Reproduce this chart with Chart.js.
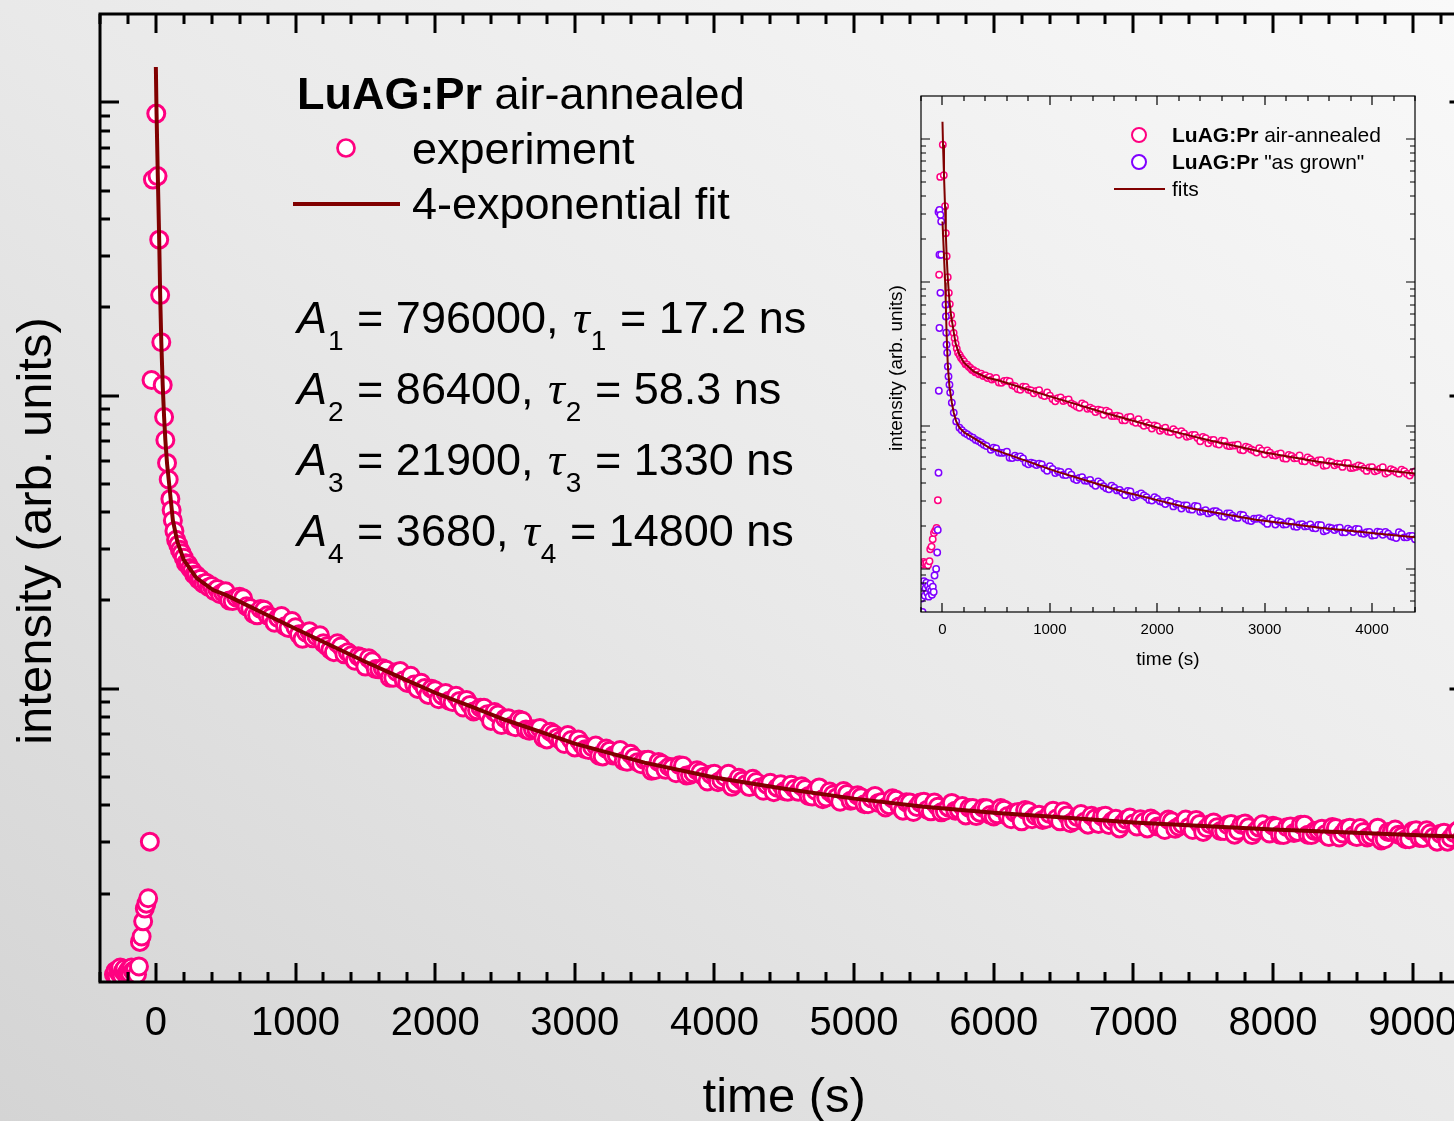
<!DOCTYPE html>
<html>
<head>
<meta charset="utf-8">
<script src="https://cdn.jsdelivr.net/npm/chart.js@4.4.1/dist/chart.umd.min.js"></script>
<style>
  html, body { margin: 0; padding: 0; width: 1454px; height: 1121px; overflow: hidden; }
  body { position: relative; background: linear-gradient(to top right, #d4d4d4 0%, #e9e9e9 50%, #f9f9f9 100%); }
  #main { position: absolute; left: 0; top: 0; }
  #inset { position: absolute; left: 870px; top: 80px; }
</style>
</head>
<body>
<canvas id="main" width="1480" height="1121"></canvas>
<canvas id="inset" width="560" height="600"></canvas>
<script>
// air-annealed sample, time (s) and counts
const mainTimes = [
  -300, -290, -280, -270, -262, -255, -245, -235, -225, -215,
  -205, -195, -185, -175, -165, -150, -135, -121, -114, -102,
  -91, -79, -68, -55, -43, -31, -21, 3, 12, 24,
  31, 39, 49, 59, 68, 80, 92, 104, 113, 122,
  133, 145, 160, 172, 185, 200, 215, 230, 245, 260,
  275, 290, 305, 320, 340, 360, 380, 400, 420, 440,
  460, 480,
  500, 550, 600, 650, 700, 750, 800, 850, 900, 950,
  1000, 1050, 1100, 1150, 1200, 1250, 1300, 1350, 1400, 1450,
  1500, 1550, 1600, 1650, 1700, 1750, 1800, 1850, 1900, 1950,
  2000, 2050, 2100, 2150, 2200, 2250, 2300, 2350, 2400, 2450,
  2500, 2550, 2600, 2650, 2700, 2750, 2800, 2850, 2900, 2950,
  3000, 3050, 3100, 3150, 3200, 3250, 3300, 3350, 3400, 3450,
  3500, 3550, 3600, 3650, 3700, 3750, 3800, 3850, 3900, 3950,
  4000, 4050, 4100, 4150, 4200, 4250, 4300, 4350, 4400, 4450,
  4500, 4550, 4600, 4650, 4700, 4750, 4800, 4850, 4900, 4950,
  5000, 5050, 5100, 5150, 5200, 5250, 5300, 5350, 5400, 5450,
  5500, 5550, 5600, 5650, 5700, 5750, 5800, 5850, 5900, 5950,
  6000, 6050, 6100, 6150, 6200, 6250, 6300, 6350, 6400, 6450,
  6500, 6550, 6600, 6650, 6700, 6750, 6800, 6850, 6900, 6950,
  7000, 7050, 7100, 7150, 7200, 7250, 7300, 7350, 7400, 7450,
  7500, 7550, 7600, 7650, 7700, 7750, 7800, 7850, 7900, 7950,
  8000, 8050, 8100, 8150, 8200, 8250, 8300, 8350, 8400, 8450,
  8500, 8550, 8600, 8650, 8700, 8750, 8800, 8850, 8900, 8950,
  9000, 9050, 9100, 9150, 9200, 9250, 9300, 9350, 9400
];
const mainCounts = [
  1060, 1090, 1040, 1100, 1070, 1120, 1050, 1090, 1110, 1060,
  1080, 1100, 1070, 1120, 1090, 1100, 1060, 1130, 1370, 1430,
  1610, 1780, 1850, 1930, 3010, 113000, 545000, 915000, 560000, 340000,
  220000, 152000, 108700, 84500, 70500, 58900, 51700, 44400, 40700, 37500,
  34500, 32200, 31000, 29800, 29000, 28000, 26800, 26600, 25800, 25300,
  24500, 24400, 23600, 23700, 22800, 23000, 22200, 22400, 21500, 21900,
  21000, 21300,
  21500, 19900, 20600, 19100, 18000, 18700, 17800, 16800, 17700, 16100,
  16200, 14800, 15700, 15100, 14300, 13600, 14300, 13100, 13000, 12900,
  11900, 12400, 11650, 11600, 10900, 11500, 10470, 10330, 10480, 9530,
  9880, 9490, 9100, 9460, 8630, 8810, 8450, 8610, 7770, 8170,
  7920, 7470, 7850, 7260, 7270, 7350, 6720, 7010, 6680, 6950,
  6310, 6460, 6180, 6400, 5880, 6150, 5940, 5670, 6000, 5620,
  5710, 5250, 5630, 5290, 5390, 5490, 5060, 5150, 5190, 4830,
  5130, 4880, 5130, 4750, 4860, 4620, 4810, 4490, 4780, 4600,
  4470, 4710, 4450, 4550, 4290, 4610, 4260, 4360, 4120, 4380,
  4180, 4270, 4040, 4310, 4110, 4010, 4180, 3840, 4090, 3950,
  4120, 3820, 3960, 3830, 4080, 3870, 3700, 3920, 3780, 3910,
  3670, 3920, 3680, 3780, 3530, 3820, 3690, 3570, 3740, 3610,
  3820, 3480, 3650, 3520, 3690, 3460, 3690, 3540, 3340, 3580,
  3470, 3590, 3340, 3540, 3380, 3580, 3330, 3450, 3380, 3570,
  3250, 3450, 3370, 3270, 3460, 3280, 3470, 3170, 3360, 3290,
  3410, 3180, 3370, 3220, 3440, 3180, 3270, 3330, 3120, 3350,
  3210, 3360, 3120, 3250, 3150, 3360, 3070, 3250, 3180, 3070,
  3270, 3100, 3290, 3120, 3200, 3010, 3220, 3070, 3150
];
// readings taken between the ones above
const mainTimesMid = [
  525, 575, 625, 675, 725, 775, 825, 875, 925, 975,
  1025, 1075, 1125, 1175, 1225, 1275, 1325, 1375, 1425, 1475,
  1525, 1575, 1625, 1675, 1725, 1775, 1825, 1875, 1925, 1975,
  2025, 2075, 2125, 2175, 2225, 2275, 2325, 2375, 2425, 2475,
  2525, 2575, 2625, 2675, 2725, 2775, 2825, 2875, 2925, 2975,
  3025, 3075, 3125, 3175, 3225, 3275, 3325, 3375, 3425, 3475,
  3525, 3575, 3625, 3675, 3725, 3775, 3825, 3875, 3925, 3975,
  4025, 4075, 4125, 4175, 4225, 4275, 4325, 4375, 4425, 4475,
  4525, 4575, 4625, 4675, 4725, 4775, 4825, 4875, 4925, 4975,
  5025, 5075, 5125, 5175, 5225, 5275, 5325, 5375, 5425, 5475,
  5525, 5575, 5625, 5675, 5725, 5775, 5825, 5875, 5925, 5975,
  6025, 6075, 6125, 6175, 6225, 6275, 6325, 6375, 6425, 6475,
  6525, 6575, 6625, 6675, 6725, 6775, 6825, 6875, 6925, 6975,
  7025, 7075, 7125, 7175, 7225, 7275, 7325, 7375, 7425, 7475,
  7525, 7575, 7625, 7675, 7725, 7775, 7825, 7875, 7925, 7975,
  8025, 8075, 8125, 8175, 8225, 8275, 8325, 8375, 8425, 8475,
  8525, 8575, 8625, 8675, 8725, 8775, 8825, 8875, 8925, 8975,
  9025, 9075, 9125, 9175, 9225, 9275, 9325, 9375
];
const mainCountsMid = [
  20000, 20480, 20340, 18850, 17800, 18590, 17570, 17450, 16330, 17030,
  15330, 15550, 14860, 15220, 13970, 13330, 13940, 13320, 12460, 12770,
  12700, 11670, 11750, 10900, 11410, 10700, 11080, 9990, 10050, 10010,
  9210, 9670, 9010, 9090, 9160, 8370, 8620, 8190, 8330, 7520,
  7930, 7390, 7780, 7190, 7270, 6790, 7140, 6810, 6480, 6690,
  6710, 6220, 6320, 5910, 6250, 5920, 6180, 5640, 5830, 5530,
  5730, 5280, 5540, 5420, 5150, 5460, 5080, 5270, 5010, 5100,
  4800, 5010, 4630, 4970, 4730, 4930, 4610, 4710, 4440, 4720,
  4450, 4560, 4650, 4310, 4490, 4200, 4460, 4260, 4480, 4150,
  4330, 4040, 4230, 4080, 3940, 4230, 3970, 4100, 3800, 4090,
  3870, 4090, 3790, 3940, 3840, 3980, 3920, 3680, 3920, 3710,
  3730, 3870, 3590, 3800, 3860, 3590, 3720, 3600, 3840, 3530,
  3700, 3540, 3740, 3440, 3610, 3670, 3430, 3600, 3470, 3640,
  3390, 3510, 3610, 3390, 3300, 3530, 3390, 3580, 3300, 3460,
  3350, 3500, 3270, 3430, 3180, 3440, 3370, 3260, 3450, 3210,
  3380, 3170, 3390, 3250, 3440, 3170, 3290, 3190, 3380, 3110,
  3330, 3160, 3350, 3110, 3230, 3040, 3250, 3310, 3140, 3070,
  3290, 3100, 3210, 3010, 3230, 3100, 3290, 3030
];
const fitTimes = [
  0, 5, 14, 24, 31, 39, 49, 59, 68, 80,
  92, 106, 122, 154, 200, 290, 410, 500, 600, 800,
  1000, 1250, 1500, 1750, 2000, 2250, 2500, 2750, 3000, 3500,
  4000, 4500, 5000, 5500, 6000, 6500, 7000, 8000, 9000, 9400
];
const fitCounts = [
  1320000, 915000, 560000, 338000, 219000, 152000, 108700, 84500, 70400, 58700,
  51700, 44400, 37500, 31700, 27500, 23900, 21700, 20900, 19820, 17810,
  16010, 14070, 12360, 10940, 9690, 8720, 7840, 7140, 6500, 5600,
  4980, 4560, 4220, 3960, 3780, 3640, 3500, 3310, 3170, 3120
];

// "as grown" sample (inset only)
const grownTimes = [
  -195, -188, -186, -180, -172, -165, -158, -150, -142, -135,
  -128, -120, -112, -105, -98, -90, -82, -74, -59, -49,
  -44, -37, -34, -28, -19, -28, -12, -12, -37, -28,
  -19, 28, 32, 35, 38, 44, 50, 56, 65, 72,
  87, 105, 128, 158, 180, 205, 230, 255, 284, 310,
  335, 360, 385, 410,
  450, 500, 550, 600, 650, 700, 750, 800, 850, 900,
  950, 1000, 1050, 1100, 1150, 1200, 1250, 1300, 1350, 1400,
  1450, 1500, 1550, 1600, 1650, 1700, 1750, 1800, 1850, 1900,
  1950, 2000, 2050, 2100, 2150, 2200, 2250, 2300, 2350, 2400,
  2450, 2500, 2550, 2600, 2650, 2700, 2750, 2800, 2850, 2900,
  2950, 3000, 3050, 3100, 3150, 3200, 3250, 3300, 3350, 3400,
  3450, 3500, 3550, 3600, 3650, 3700, 3750, 3800, 3850, 3900,
  3950, 4000, 4050, 4100, 4150, 4200, 4250, 4300, 4350, 4400
];
const grownCounts = [
  620, 760, 500, 690, 820, 650, 730, 800, 680, 760,
  640, 720, 790, 700, 660, 750, 690, 900, 1000, 1300,
  1870, 4690, 17500, 48000, 84500, 156000, 156000, 266000, 310000, 320000,
  295000, 69800, 57800, 44500, 36700, 32300, 25900, 22000, 19300, 17000,
  14450, 12300, 10700, 9670, 9300, 8920, 8700, 8450, 8240, 7950,
  7800, 7600, 7350, 7200,
  6780, 6920, 6450, 6570, 5950, 6010, 5890, 5380, 5440, 5430,
  5020, 5210, 4670, 4740, 4520, 4540, 4170, 4360, 4120, 3930,
  4070, 3770, 3600, 3690, 3560, 3270, 3470, 3230, 3360, 3160,
  3000, 3080, 2930, 2990, 2730, 2810, 2770, 2610, 2750, 2500,
  2570, 2480, 2530, 2330, 2440, 2350, 2270, 2370, 2180, 2240,
  2260, 2130, 2250, 2040, 2120, 2050, 2110, 1970, 2050, 1990,
  1930, 2030, 1830, 1950, 1870, 1940, 1800, 1860, 1900, 1770,
  1800, 1710, 1820, 1730, 1760, 1670, 1800, 1660, 1700, 1610
];
const grownTimesMid = [
  475, 525, 575, 625, 675, 725, 775, 825, 875, 925,
  975, 1025, 1075, 1125, 1175, 1225, 1275, 1325, 1375, 1425,
  1475, 1525, 1575, 1625, 1675, 1725, 1775, 1825, 1875, 1925,
  1975, 2025, 2075, 2125, 2175, 2225, 2275, 2325, 2375, 2425,
  2475, 2525, 2575, 2625, 2675, 2725, 2775, 2825, 2875, 2925,
  2975, 3025, 3075, 3125, 3175, 3225, 3275, 3325, 3375, 3425,
  3475, 3525, 3575, 3625, 3675, 3725, 3775, 3825, 3875, 3925,
  3975, 4025, 4075, 4125, 4175, 4225, 4275, 4325, 4375
];
const grownCountsMid = [
  7020, 6490, 6480, 5970, 6160, 6090, 5510, 5520, 5300, 5350,
  4840, 4980, 4800, 4540, 4740, 4260, 4320, 4130, 4180, 3800,
  3940, 3650, 3810, 3530, 3410, 3500, 3160, 3290, 3250, 3030,
  3170, 2960, 2840, 2930, 2840, 2640, 2770, 2590, 2730, 2530,
  2440, 2530, 2460, 2310, 2440, 2280, 2390, 2240, 2160, 2240,
  2200, 2060, 2190, 2150, 2040, 2140, 1980, 2040, 1980, 2040,
  1920, 2020, 1860, 1920, 1920, 1800, 1910, 1810, 1890, 1760,
  1810, 1720, 1800, 1810, 1690, 1640, 1750, 1660, 1700
];
const grownFitTimes = [
  0, 25, 30, 38, 50, 65, 87, 105, 128, 158,
  205, 284, 360, 437, 700, 1058, 1400, 1677, 2000, 2298,
  2918, 3538, 4158, 4400
];
const grownFitCounts = [
  266000, 99800, 76000, 44500, 26000, 18700, 14500, 12300, 10700, 9670,
  8920, 8240, 7600, 6990, 5950, 4790, 4010, 3470, 3020, 2660,
  2200, 1930, 1730, 1660
];

const mainTickLabels = [0, 1000, 2000, 3000, 4000, 5000, 6000, 7000, 8000, 9000];
const insetTickLabels = [0, 1000, 2000, 3000, 4000];
const fitAmplitudes = ['796000', '86400', '21900', '3680'];
const fitLifetimes = ['17.2', '58.3', '1330', '14800'];

const FONT = '"Liberation Sans", Arial, Helvetica, sans-serif';
const SERIF = '"Liberation Serif", "Times New Roman", serif';
const PINK = '#ff0080';
const PURPLE = '#8000ff';
const MAROON = '#800000';

const toPoints = (xs, ys) => xs.map((t, i) => ({ x: t, y: ys[i] }));
// merge two sets of readings back into time order, so later circles sit on top
const merged = (a, b) => a.concat(b).sort((p, q) => p.x - q.x);

const airPoints = merged(toPoints(mainTimes, mainCounts), toPoints(mainTimesMid, mainCountsMid));
const grownPoints = merged(toPoints(grownTimes, grownCounts), toPoints(grownTimesMid, grownCountsMid));

function put(ctx, text, x, y, font) {
  ctx.font = font;
  ctx.fillText(text, x, y);
  return x + ctx.measureText(text).width;
}

// frame with inward ticks on all four sides
function frameTicks(o) {
  return {
    id: 'frameTicks',
    afterDatasetsDraw(chart) {
      const { ctx, chartArea: a, scales: { x, y } } = chart;
      ctx.save();
      ctx.strokeStyle = '#000';
      ctx.lineWidth = o.width;
      ctx.beginPath();
      for (let v = x.min; v <= x.max; v += 200) {
        const px = Math.round(x.getPixelForValue(v));
        const len = v % 1000 === 0 ? o.major : o.minor;
        ctx.moveTo(px, a.bottom);
        ctx.lineTo(px, a.bottom - len);
        ctx.moveTo(px, a.top);
        ctx.lineTo(px, a.top + len);
      }
      for (let e = 2; e <= 6; e++) {
        for (let m = 1; m <= 9; m++) {
          const v = m * Math.pow(10, e);
          if (v <= y.min || v >= y.max) continue;
          const py = Math.round(y.getPixelForValue(v));
          const len = m === 1 ? o.major : o.minor;
          ctx.moveTo(a.left, py);
          ctx.lineTo(a.left + len, py);
          ctx.moveTo(a.right, py);
          ctx.lineTo(a.right - len, py);
        }
      }
      ctx.stroke();
      ctx.strokeRect(a.left, a.top, a.right - a.left, a.bottom - a.top);
      ctx.restore();
    }
  };
}

const mainNotes = {
  id: 'mainNotes',
  afterDraw(chart) {
    const ctx = chart.ctx;
    ctx.save();
    ctx.fillStyle = '#000';
    ctx.textBaseline = 'alphabetic';
    let x = put(ctx, 'LuAG:Pr', 297, 109, 'bold 45px ' + FONT);
    put(ctx, ' air-annealed', x, 109, '45px ' + FONT);
    put(ctx, 'experiment', 412, 164, '45px ' + FONT);
    put(ctx, '4-exponential fit', 412, 219, '45px ' + FONT);

    ctx.lineWidth = 2.7;
    ctx.strokeStyle = PINK;
    ctx.fillStyle = '#fff';
    ctx.beginPath();
    ctx.arc(346, 148, 8.5, 0, 2 * Math.PI);
    ctx.fill();
    ctx.stroke();
    ctx.strokeStyle = MAROON;
    ctx.lineWidth = 4;
    ctx.beginPath();
    ctx.moveTo(293, 204);
    ctx.lineTo(400, 204);
    ctx.stroke();

    ctx.fillStyle = '#000';
    fitAmplitudes.forEach((amp, i) => {
      const base = 333 + i * 71;
      let x = put(ctx, 'A', 297, base, 'italic 45px ' + FONT);
      x = put(ctx, String(i + 1), x + 1, base + 17, '28px ' + FONT) + 1;
      x = put(ctx, ' = ' + amp + ', ', x, base, '45px ' + FONT);
      x = put(ctx, 'τ', x + 2, base, 'italic 47px ' + SERIF);
      x = put(ctx, String(i + 1), x + 1, base + 17, '28px ' + FONT) + 1;
      put(ctx, ' = ' + fitLifetimes[i] + ' ns', x, base, '45px ' + FONT);
    });

    ctx.translate(37, 531);
    ctx.rotate(-Math.PI / 2);
    ctx.textAlign = 'center';
    ctx.textBaseline = 'middle';
    ctx.font = '49px ' + FONT;
    ctx.fillText('intensity (arb. units)', 0, 0);
    ctx.restore();
  }
};

const insetNotes = {
  id: 'insetNotes',
  afterDraw(chart) {
    const ctx = chart.ctx;
    ctx.save();
    ctx.lineWidth = 2;
    [[55, PINK], [82, PURPLE]].forEach(([cy, c]) => {
      ctx.strokeStyle = c;
      ctx.fillStyle = '#fff';
      ctx.beginPath();
      ctx.arc(269, cy, 7, 0, 2 * Math.PI);
      ctx.fill();
      ctx.stroke();
    });
    ctx.strokeStyle = MAROON;
    ctx.beginPath();
    ctx.moveTo(244, 109);
    ctx.lineTo(295, 109);
    ctx.stroke();

    ctx.fillStyle = '#000';
    let x = put(ctx, 'LuAG:Pr', 302, 62, 'bold 21px ' + FONT);
    put(ctx, ' air-annealed', x, 62, '21px ' + FONT);
    x = put(ctx, 'LuAG:Pr', 302, 89, 'bold 21px ' + FONT);
    put(ctx, ' "as grown"', x, 89, '21px ' + FONT);
    put(ctx, 'fits', 302, 116, '21px ' + FONT);

    ctx.translate(27, 288);
    ctx.rotate(-Math.PI / 2);
    ctx.textAlign = 'center';
    ctx.textBaseline = 'middle';
    ctx.font = '19px ' + FONT;
    ctx.fillText('intensity (arb. units)', 0, 0);
    ctx.restore();
  }
};

try {
  new Chart(document.getElementById('main'), {
    type: 'scatter',
    data: {
      datasets: [
        {
          label: 'experiment',
          data: airPoints,
          order: 1,
          clip: 0,
          pointRadius: 8.5,
          pointBorderWidth: 3,
          pointBorderColor: PINK,
          pointBackgroundColor: '#fff'
        },
        {
          label: '4-exponential fit',
          data: toPoints(fitTimes, fitCounts),
          order: 0,
          clip: 0,
          showLine: true,
          borderColor: MAROON,
          borderWidth: 4,
          pointRadius: 0,
          tension: 0
        }
      ]
    },
    options: {
      responsive: false,
      animation: false,
      devicePixelRatio: 1,
      events: [],
      layout: { padding: { left: 100, top: 14, right: 8, bottom: 0 } },
      plugins: { legend: { display: false }, tooltip: { enabled: false } },
      scales: {
        x: {
          type: 'linear',
          min: -400,
          max: 9400,
          grid: { display: false },
          border: { display: false },
          afterBuildTicks: s => { s.ticks = mainTickLabels.map(v => ({ value: v })); },
          afterFit: s => { s.height = 139; },
          ticks: { color: '#000', font: { family: FONT, size: 40 }, padding: 10, autoSkip: false, maxRotation: 0, callback: v => String(v) },
          title: { display: true, text: 'time (s)', color: '#000', font: { family: FONT, size: 49, lineHeight: 1 }, padding: { top: 0, bottom: -2 } }
        },
        y: { type: 'logarithmic', display: false, min: 1000, max: 2000000 }
      }
    },
    plugins: [frameTicks({ width: 3, major: 19, minor: 10 }), mainNotes]
  });

  new Chart(document.getElementById('inset'), {
    type: 'scatter',
    data: {
      datasets: [
        {
          label: 'LuAG:Pr air-annealed',
          data: airPoints,
          order: 2,
          clip: 0,
          pointRadius: 3.2,
          pointBorderWidth: 1.5,
          pointBorderColor: PINK,
          pointBackgroundColor: '#fff'
        },
        {
          label: 'LuAG:Pr "as grown"',
          data: grownPoints,
          order: 1,
          clip: 0,
          pointRadius: 3.2,
          pointBorderWidth: 1.5,
          pointBorderColor: PURPLE,
          pointBackgroundColor: '#fff'
        },
        {
          label: 'fits',
          data: toPoints(fitTimes, fitCounts),
          order: 0,
          clip: 0,
          showLine: true,
          borderColor: MAROON,
          borderWidth: 2,
          pointRadius: 0
        },
        {
          label: 'fits',
          data: toPoints(grownFitTimes, grownFitCounts),
          order: 0,
          clip: 0,
          showLine: true,
          borderColor: MAROON,
          borderWidth: 2,
          pointRadius: 0
        }
      ]
    },
    options: {
      responsive: false,
      animation: false,
      devicePixelRatio: 1,
      events: [],
      layout: { padding: { left: 51, top: 16, right: 15, bottom: 0 } },
      plugins: { legend: { display: false }, tooltip: { enabled: false } },
      scales: {
        x: {
          type: 'linear',
          min: -200,
          max: 4400,
          grid: { display: false },
          border: { display: false },
          afterBuildTicks: s => { s.ticks = insetTickLabels.map(v => ({ value: v })); },
          afterFit: s => { s.height = 68; },
          ticks: { color: '#000', font: { family: FONT, size: 15 }, padding: 1, autoSkip: false, maxRotation: 0, callback: v => String(v) },
          title: { display: true, text: 'time (s)', color: '#000', font: { family: FONT, size: 19 }, padding: { top: 0, bottom: 9 } }
        },
        y: { type: 'logarithmic', display: false, min: 500, max: 2000000 }
      }
    },
    plugins: [frameTicks({ width: 1.2, major: 9, minor: 5 }), insetNotes]
  });
} catch (error) {
  console.log(error);
}
</script>
</body>
</html>
